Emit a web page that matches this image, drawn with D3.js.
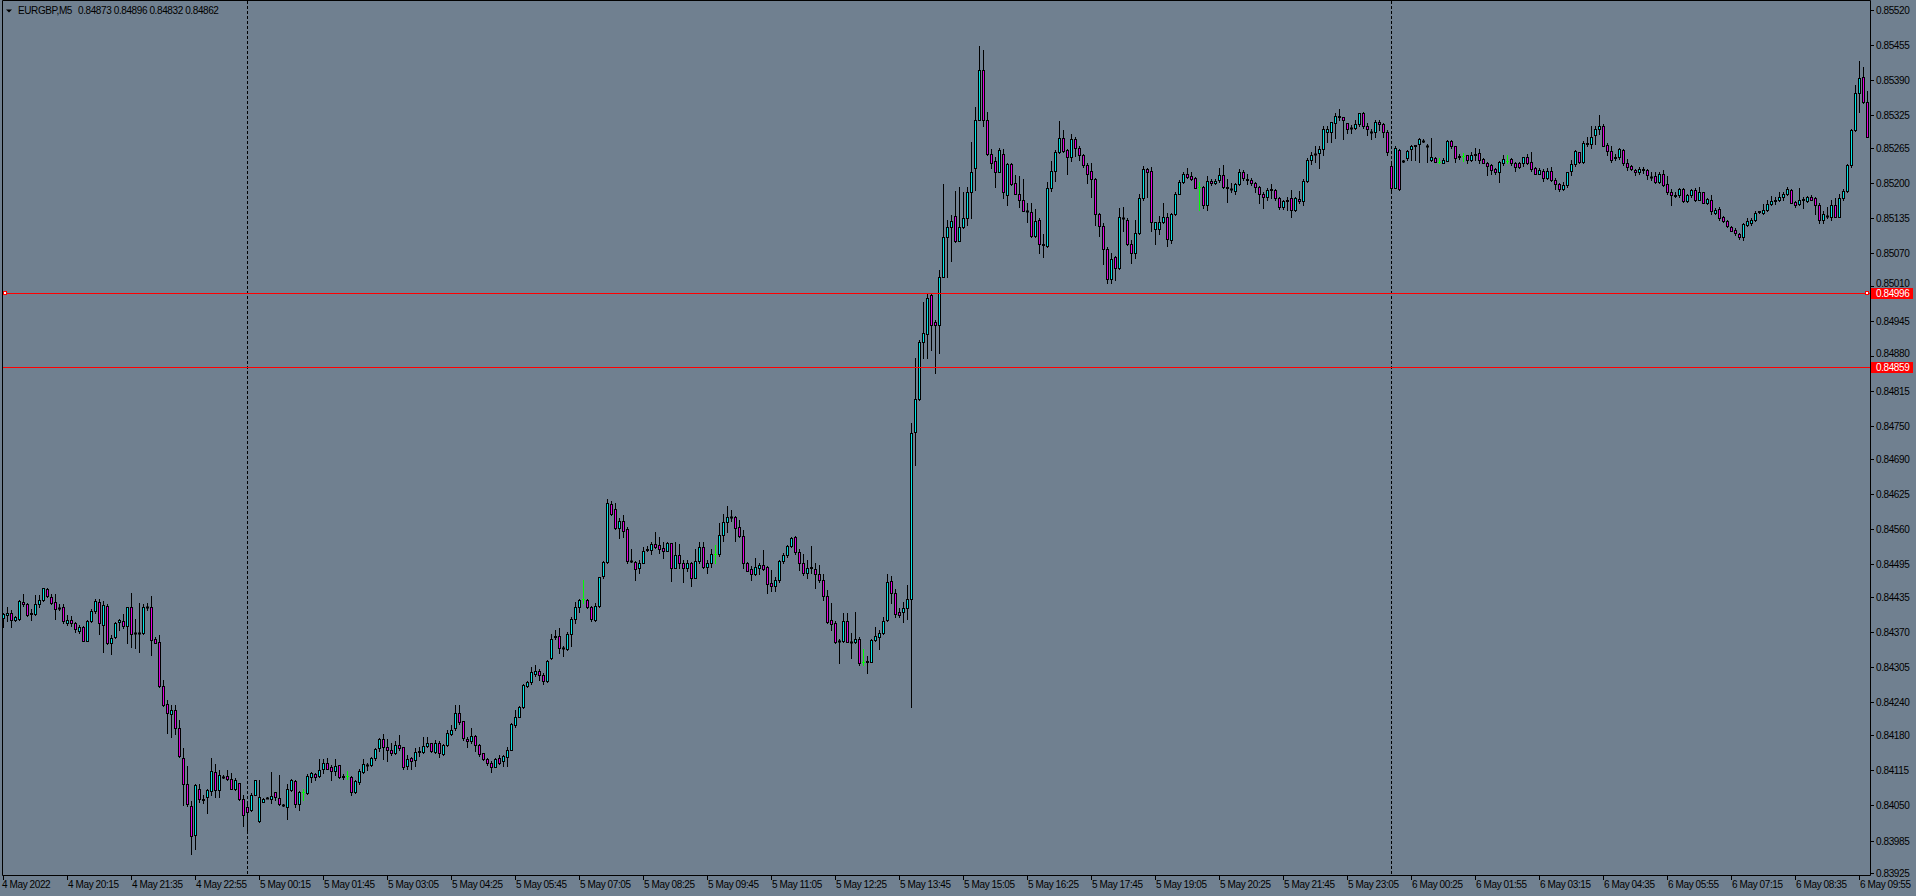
<!DOCTYPE html>
<html><head><meta charset="utf-8">
<script src="https://cdn.jsdelivr.net/npm/d3@7"></script>
<style>
html,body{margin:0;padding:0;background:#708090;overflow:hidden}
svg{display:block}
text{font-family:"Liberation Sans",Arial,sans-serif;font-size:10px;letter-spacing:-0.4px;fill:#000}
</style></head><body>
<svg id="c" width="1916" height="896"></svg>
<script>
// ---- DATA ----
const symbolInfo = "EURGBP,M5";
const headerValues = ["0.84873", "0.84896", "0.84832", "0.84862"];

const opens = [
.84396,.84401,.84406,.84393,.84395,.84426,.84422,.84405,.84404,.84421,
.84430,.84449,.84434,.84426,.84415,.84416,.84387,.84393,.84386,.84372,
.84380,.84354,.84390,.84409,.84425,.84384,.84419,.84349,.84361,.84388,
.84391,.84382,.84416,.84368,.84369,.84369,.84417,.84417,.84358,.84352,
.84271,.84238,.84218,.84227,.84192,.84138,.84089,.84049,.83996,.84081,
.84061,.84065,.84076,.84111,.84079,.84103,.84104,.84099,.84081,.84091,
.84061,.84046,.84041,.84070,.84021,.84057,.84064,.84062,.84074,.84063,
.84051,.84046,.84078,.84095,.84053,.84075,.84072,.84102,.84107,.84104,
.84118,.84128,.84120,.84114,.84124,.84103,.84105,.84102,.84075,.84094,
.84112,.84125,.84124,.84137,.84155,.84172,.84158,.84152,.84146,.84161,
.84157,.84123,.84138,.84134,.84149,.84149,.84159,.84165,.84149,.84166,
.84144,.84161,.84182,.84192,.84220,.84205,.84172,.84168,.84178,.84161,
.84146,.84135,.84129,.84121,.84137,.84131,.84139,.84153,.84198,.84214,
.84232,.84270,.84278,.84292,.84299,.84291,.84279,.84322,.84362,.84363,
.84341,.84338,.84367,.84395,.84416,.84431,.84429,.84416,.84392,.84418,
.84474,.84499,.84607,.84597,.84563,.84575,.84560,.84502,.84500,.84488,
.84498,.84522,.84522,.84532,.84530,.84525,.84520,.84534,.84489,.84512,
.84498,.84488,.84497,.84470,.84501,.84528,.84490,.84497,.84514,.84514,
.84550,.84573,.84583,.84582,.84565,.84548,.84498,.84486,.84478,.84488,
.84493,.84490,.84460,.84455,.84467,.84502,.84512,.84529,.84545,.84518,
.84497,.84479,.84490,.84487,.84478,.84466,.84437,.84392,.84386,.84354,
.84354,.84390,.84352,.84351,.84358,.84315,.84315,.84315,.84355,.84361,
.84368,.84392,.84464,.84442,.84408,.84408,.84414,.84432,.84740,.84800,
.84906,.84921,.84993,.84942,.84937,.85025,.85099,.85119,.85138,.85093,
.85119,.85134,.85182,.85228,.85316,.85408,.85316,.85254,.85241,.85220,
.85254,.85177,.85234,.85199,.85180,.85169,.85148,.85146,.85102,.85132,
.85086,.85084,.85191,.85222,.85257,.85282,.85260,.85248,.85280,.85265,
.85252,.85233,.85222,.85206,.85142,.85121,.85077,.85023,.85062,.85042,
.85135,.85132,.85087,.85071,.85108,.85171,.85225,.85222,.85114,.85114,
.85127,.85136,.85095,.85142,.85180,.85202,.85217,.85212,.85208,.85193,
.85192,.85158,.85204,.85199,.85205,.85215,.85192,.85189,.85185,.85197,
.85219,.85206,.85205,.85200,.85192,.85180,.85174,.85188,.85187,.85171,
.85155,.85168,.85171,.85150,.85170,.85166,.85204,.85242,.85254,.85255,
.85262,.85294,.85294,.85310,.85323,.85321,.85310,.85302,.85302,.85309,
.85328,.85305,.85294,.85293,.85313,.85308,.85294,.85231,.85191,.85260,
.85241,.85245,.85262,.85269,.85272,.85278,.85268,.85242,.85245,.85239,
.85237,.85241,.85277,.85267,.85249,.85250,.85251,.85242,.85252,.85255,
.85243,.85237,.85232,.85225,.85219,.85236,.85241,.85243,.85237,.85237,
.85236,.85247,.85238,.85227,.85217,.85222,.85208,.85222,.85205,.85197,
.85188,.85196,.85222,.85235,.85256,.85239,.85272,.85272,.85288,.85300,
.85305,.85270,.85259,.85246,.85247,.85260,.85236,.85231,.85223,.85220,
.85225,.85223,.85211,.85212,.85202,.85217,.85198,.85182,.85177,.85177,
.85188,.85167,.85177,.85187,.85169,.85182,.85163,.85168,.85145,.85151,
.85137,.85129,.85119,.85113,.85105,.85099,.85122,.85126,.85131,.85146,
.85145,.85150,.85160,.85168,.85168,.85173,.85179,.85186,.85164,.85161,
.85169,.85167,.85173,.85171,.85159,.85132,.85138,.85137,.85159,.85137,
.85171,.85184,.85233,.85297,.85365,.85395,.85350
];
const highs = [
.84406,.84416,.84411,.84400,.84429,.84440,.84424,.84412,.84438,.84438,
.84452,.84451,.84441,.84441,.84421,.84422,.84401,.84400,.84389,.84384,
.84381,.84392,.84412,.84432,.84432,.84428,.84422,.84364,.84389,.84395,
.84404,.84417,.84443,.84395,.84423,.84422,.84424,.84437,.84361,.84364,
.84281,.84244,.84235,.84236,.84207,.84155,.84122,.84058,.84089,.84089,
.84069,.84080,.84137,.84126,.84115,.84106,.84116,.84109,.84100,.84092,
.84069,.84054,.84072,.84097,.84097,.84063,.84065,.84111,.84075,.84106,
.84052,.84089,.84098,.84097,.84076,.84081,.84107,.84111,.84110,.84135,
.84135,.84137,.84125,.84135,.84125,.84107,.84113,.84104,.84097,.84117,
.84135,.84128,.84140,.84156,.84174,.84181,.84172,.84165,.84169,.84179,
.84158,.84143,.84140,.84155,.84157,.84177,.84176,.84166,.84171,.84168,
.84163,.84189,.84198,.84235,.84235,.84206,.84177,.84192,.84180,.84163,
.84147,.84137,.84132,.84137,.84143,.84143,.84158,.84202,.84226,.84234,
.84275,.84280,.84305,.84309,.84301,.84294,.84318,.84367,.84374,.84377,
.84344,.84371,.84397,.84426,.84431,.84466,.84432,.84418,.84423,.84472,
.84501,.84615,.84613,.84609,.84580,.84586,.84565,.84523,.84501,.84503,
.84528,.84529,.84537,.84555,.84545,.84536,.84537,.84535,.84537,.84532,
.84504,.84503,.84500,.84523,.84537,.84537,.84503,.84523,.84531,.84572,
.84588,.84603,.84595,.84584,.84577,.84559,.84500,.84492,.84506,.84497,
.84522,.84492,.84485,.84472,.84504,.84517,.84531,.84546,.84547,.84523,
.84514,.84503,.84529,.84497,.84494,.84478,.84448,.84424,.84390,.84358,
.84405,.84405,.84368,.84408,.84361,.84338,.84325,.84357,.84380,.84374,
.84398,.84477,.84473,.84449,.84414,.84426,.84457,.84756,.84877,.84909,
.84980,.84996,.84996,.84946,.85039,.85198,.85131,.85140,.85185,.85193,
.85183,.85193,.85276,.85340,.85453,.85445,.85331,.85263,.85248,.85265,
.85263,.85237,.85236,.85214,.85212,.85206,.85162,.85162,.85151,.85134,
.85106,.85202,.85241,.85260,.85314,.85297,.85263,.85290,.85284,.85268,
.85254,.85236,.85237,.85208,.85145,.85126,.85081,.85070,.85065,.85153,
.85156,.85134,.85095,.85131,.85180,.85231,.85227,.85230,.85128,.85139,
.85162,.85145,.85145,.85182,.85205,.85220,.85228,.85220,.85210,.85202,
.85194,.85212,.85206,.85206,.85228,.85233,.85206,.85199,.85199,.85225,
.85223,.85217,.85208,.85202,.85194,.85182,.85190,.85198,.85188,.85173,
.85169,.85173,.85187,.85174,.85184,.85206,.85245,.85257,.85268,.85267,
.85304,.85305,.85313,.85328,.85336,.85322,.85311,.85307,.85316,.85329,
.85331,.85310,.85299,.85315,.85315,.85310,.85297,.85239,.85267,.85262,
.85242,.85260,.85270,.85270,.85282,.85280,.85272,.85282,.85248,.85245,
.85245,.85279,.85279,.85268,.85254,.85255,.85252,.85257,.85264,.85263,
.85245,.85239,.85234,.85228,.85240,.85251,.85251,.85245,.85239,.85239,
.85248,.85254,.85257,.85230,.85227,.85225,.85228,.85230,.85208,.85200,
.85202,.85220,.85242,.85260,.85257,.85278,.85285,.85304,.85305,.85325,
.85308,.85273,.85267,.85254,.85265,.85263,.85243,.85233,.85226,.85229,
.85230,.85225,.85220,.85219,.85220,.85223,.85212,.85188,.85182,.85190,
.85190,.85180,.85188,.85190,.85193,.85183,.85172,.85177,.85153,.85155,
.85139,.85131,.85121,.85116,.85108,.85125,.85134,.85135,.85147,.85148,
.85161,.85168,.85175,.85173,.85183,.85183,.85193,.85188,.85167,.85190,
.85174,.85175,.85177,.85174,.85162,.85147,.85156,.85169,.85171,.85179,
.85188,.85235,.85300,.85380,.85425,.85413,.85370
];
const lows = [
.84380,.84391,.84380,.84391,.84392,.84418,.84400,.84393,.84402,.84417,
.84428,.84434,.84422,.84395,.84411,.84386,.84383,.84382,.84371,.84369,
.84353,.84353,.84388,.84406,.84367,.84334,.84348,.84329,.84360,.84374,
.84377,.84349,.84343,.84340,.84334,.84367,.84411,.84327,.84349,.84269,
.84233,.84184,.84177,.84182,.84140,.84050,.84049,.83961,.83970,.84057,
.84055,.84035,.84069,.84065,.84066,.84100,.84097,.84080,.84079,.84060,
.84012,.83998,.84040,.84069,.84020,.84057,.84063,.84055,.84060,.84050,
.84049,.84024,.84077,.84046,.84041,.84060,.84071,.84093,.84097,.84103,
.84109,.84117,.84096,.84106,.84100,.84099,.84098,.84070,.84072,.84089,
.84110,.84115,.84122,.84134,.84151,.84135,.84131,.84143,.84145,.84153,
.84117,.84117,.84118,.84122,.84141,.84146,.84157,.84149,.84147,.84139,
.84143,.84160,.84180,.84190,.84200,.84171,.84158,.84165,.84151,.84142,
.84134,.84125,.84112,.84120,.84126,.84123,.84123,.84152,.84195,.84213,
.84229,.84268,.84275,.84288,.84282,.84274,.84278,.84320,.84358,.84331,
.84325,.84337,.84345,.84387,.84407,.84423,.84415,.84391,.84391,.84417,
.84469,.84498,.84586,.84560,.84543,.84546,.84498,.84500,.84467,.84480,
.84497,.84520,.84514,.84525,.84517,.84506,.84519,.84465,.84488,.84488,
.84463,.84482,.84456,.84469,.84497,.84488,.84480,.84491,.84497,.84511,
.84538,.84554,.84576,.84539,.84546,.84488,.84482,.84466,.84475,.84478,
.84485,.84442,.84445,.84445,.84463,.84498,.84509,.84528,.84515,.84485,
.84475,.84469,.84479,.84451,.84463,.84430,.84386,.84374,.84349,.84313,
.84352,.84351,.84322,.84349,.84309,.84309,.84294,.84314,.84354,.84338,
.84366,.84391,.84423,.84397,.84398,.84389,.84395,.84231,.84679,.84799,
.84876,.84876,.84891,.84849,.84886,.85025,.85026,.85056,.85091,.85093,
.85116,.85122,.85134,.85187,.85315,.85304,.85251,.85228,.85193,.85219,
.85171,.85159,.85196,.85179,.85156,.85147,.85128,.85099,.85100,.85070,
.85062,.85082,.85185,.85203,.85255,.85257,.85217,.85241,.85249,.85242,
.85230,.85200,.85174,.85122,.85102,.85050,.85014,.85014,.85020,.85041,
.85111,.85085,.85052,.85061,.85106,.85169,.85174,.85111,.85086,.85106,
.85125,.85084,.85088,.85140,.85179,.85200,.85209,.85205,.85190,.85150,
.85153,.85150,.85196,.85197,.85202,.85191,.85164,.85183,.85180,.85195,
.85205,.85197,.85196,.85182,.85163,.85153,.85169,.85171,.85168,.85151,
.85151,.85150,.85136,.85148,.85162,.85159,.85202,.85235,.85239,.85228,
.85251,.85276,.85276,.85282,.85316,.85280,.85291,.85291,.85299,.85304,
.85302,.85288,.85280,.85285,.85297,.85284,.85251,.85185,.85190,.85187,
.85239,.85242,.85242,.85242,.85239,.85276,.85239,.85241,.85238,.85237,
.85236,.85240,.85265,.85239,.85243,.85241,.85237,.85241,.85242,.85236,
.85236,.85214,.85217,.85216,.85202,.85233,.85236,.85233,.85222,.85227,
.85231,.85235,.85222,.85216,.85216,.85204,.85206,.85204,.85188,.85185,
.85187,.85193,.85214,.85231,.85237,.85237,.85267,.85264,.85272,.85290,
.85267,.85251,.85239,.85242,.85243,.85233,.85223,.85223,.85215,.85217,
.85218,.85206,.85205,.85200,.85200,.85194,.85180,.85159,.85174,.85174,
.85165,.85165,.85174,.85167,.85168,.85162,.85161,.85143,.85142,.85132,
.85127,.85119,.85110,.85103,.85097,.85095,.85121,.85122,.85130,.85144,
.85143,.85148,.85158,.85160,.85167,.85169,.85177,.85162,.85156,.85159,
.85154,.85164,.85168,.85143,.85125,.85126,.85134,.85132,.85136,.85136,
.85169,.85182,.85230,.85296,.85331,.85347,.85284
];
const closes = [
.84404,.84406,.84392,.84397,.84427,.84421,.84401,.84404,.84421,.84430,
.84451,.84436,.84424,.84412,.84414,.84391,.84393,.84387,.84375,.84380,
.84354,.84390,.84409,.84427,.84386,.84420,.84349,.84360,.84386,.84393,
.84382,.84416,.84367,.84369,.84368,.84417,.84416,.84356,.84350,.84270,
.84236,.84221,.84227,.84193,.84142,.84089,.84053,.83994,.84087,.84061,
.84060,.84078,.84113,.84078,.84106,.84102,.84099,.84081,.84097,.84062,
.84033,.84038,.84070,.84096,.84065,.84061,.84063,.84067,.84065,.84052,
.84050,.84080,.84097,.84053,.84074,.84075,.84105,.84109,.84103,.84116,
.84128,.84118,.84113,.84123,.84102,.84104,.84105,.84075,.84095,.84113,
.84126,.84124,.84137,.84154,.84172,.84157,.84152,.84147,.84161,.84155,
.84120,.84135,.84131,.84149,.84150,.84160,.84166,.84150,.84165,.84146,
.84161,.84183,.84189,.84220,.84203,.84174,.84168,.84178,.84161,.84144,
.84135,.84128,.84120,.84135,.84128,.84141,.84152,.84200,.84214,.84232,
.84272,.84278,.84297,.84299,.84291,.84279,.84317,.84358,.84361,.84340,
.84340,.84367,.84395,.84416,.84429,.84431,.84417,.84395,.84418,.84471,
.84499,.84608,.84589,.84563,.84576,.84556,.84502,.84501,.84486,.84498,
.84520,.84523,.84532,.84528,.84524,.84520,.84534,.84489,.84512,.84498,
.84488,.84498,.84469,.84501,.84528,.84491,.84497,.84514,.84514,.84550,
.84573,.84582,.84582,.84563,.84548,.84497,.84483,.84478,.84491,.84493,
.84487,.84458,.84456,.84467,.84502,.84512,.84529,.84544,.84518,.84497,
.84479,.84488,.84489,.84477,.84466,.84437,.84388,.84385,.84351,.84353,
.84390,.84352,.84351,.84358,.84313,.84315,.84316,.84355,.84363,.84369,
.84390,.84462,.84442,.84403,.84402,.84414,.84432,.84737,.84800,.84906,
.84922,.84988,.84937,.84937,.85025,.85099,.85119,.85130,.85093,.85119,
.85134,.85183,.85220,.85316,.85408,.85316,.85254,.85236,.85220,.85260,
.85182,.85235,.85198,.85180,.85169,.85148,.85147,.85102,.85130,.85086,
.85085,.85191,.85222,.85257,.85282,.85259,.85248,.85280,.85265,.85251,
.85233,.85217,.85206,.85143,.85121,.85077,.85023,.85060,.85042,.85136,
.85134,.85087,.85071,.85108,.85171,.85225,.85220,.85127,.85127,.85127,
.85136,.85097,.85142,.85180,.85202,.85217,.85211,.85207,.85191,.85193,
.85158,.85204,.85199,.85204,.85215,.85193,.85191,.85188,.85197,.85220,
.85208,.85205,.85200,.85192,.85180,.85174,.85187,.85187,.85171,.85155,
.85166,.85167,.85150,.85171,.85166,.85204,.85242,.85251,.85253,.85262,
.85300,.85300,.85312,.85323,.85322,.85315,.85299,.85301,.85309,.85328,
.85305,.85300,.85293,.85313,.85308,.85294,.85257,.85191,.85265,.85188,
.85240,.85259,.85267,.85268,.85280,.85277,.85267,.85247,.85239,.85239,
.85242,.85277,.85267,.85246,.85248,.85250,.85242,.85251,.85253,.85242,
.85237,.85231,.85224,.85219,.85239,.85243,.85241,.85236,.85230,.85230,
.85247,.85237,.85225,.85217,.85224,.85208,.85222,.85205,.85197,.85188,
.85196,.85219,.85235,.85259,.85239,.85273,.85273,.85285,.85300,.85305,
.85268,.85259,.85242,.85247,.85262,.85236,.85230,.85226,.85219,.85225,
.85224,.85215,.85210,.85202,.85217,.85196,.85182,.85177,.85176,.85188,
.85167,.85177,.85187,.85169,.85182,.85163,.85170,.85147,.85150,.85134,
.85130,.85121,.85111,.85107,.85100,.85123,.85129,.85131,.85145,.85147,
.85150,.85161,.85166,.85167,.85173,.85180,.85188,.85163,.85159,.85169,
.85170,.85173,.85169,.85159,.85132,.85142,.85139,.85159,.85137,.85171,
.85185,.85233,.85297,.85365,.85393,.85350,.85285
];

const timeLabels = ["4 May 2022","4 May 20:15","4 May 21:35","4 May 22:55","5 May 00:15","5 May 01:45",
  "5 May 03:05","5 May 04:25","5 May 05:45","5 May 07:05","5 May 08:25","5 May 09:45","5 May 11:05",
  "5 May 12:25","5 May 13:45","5 May 15:05","5 May 16:25","5 May 17:45","5 May 19:05","5 May 20:25",
  "5 May 21:45","5 May 23:05","6 May 00:25","6 May 01:55","6 May 03:15","6 May 04:35","6 May 05:55",
  "6 May 07:15","6 May 08:35","6 May 09:55"];
const barsPerLabel = 16;
const priceTicks = [0.85520,0.85455,0.85390,0.85325,0.85265,0.85200,0.85135,0.85070,0.85010,0.84945,
  0.84880,0.84815,0.84750,0.84690,0.84625,0.84560,0.84495,0.84435,0.84370,0.84305,0.84240,0.84180,
  0.84115,0.84050,0.83985,0.83925];
const priceDomain = [0.83925, 0.85520];
const hLevels = [0.84996, 0.84859];
const separatorBars = [61, 347]; // day separators (5 May 00:00, 6 May 00:00)

// ---- STYLE / LAYOUT ----
const W = 1916, H = 896;
const L = 2, T = 0, R = 1870, B = 875;
const BG = "#708090", BULL = "#00E5E5", BEAR = "#E000E0", DOJI = "#00FF00", RED = "#FF0000";

const svg = d3.select("#c");
svg.append("rect").attr("width", W).attr("height", H).attr("fill", BG);

const n = closes.length;
const x = d3.scaleLinear().domain([0, n - 1]).range([3.3, 1867.3]);
const y = d3.scaleLinear().domain(priceDomain).range([873, 9.5]);
const px = i => Math.round(x(i));
const py = v => Math.round(y(v));

const bars = d3.range(n).map(i => ({i, o: opens[i], h: highs[i], l: lows[i], c: closes[i]}));

// plot frame
svg.append("path").attr("d", `M${L+0.5},${B+0.5}V${T+0.5}H${R+0.5}V${B+0.5}H${L+0.5}`)
  .attr("fill", "none").attr("stroke", "#000").attr("stroke-width", 1);

// day separators
svg.append("g").selectAll("line").data(separatorBars).join("line")
  .attr("x1", d => px(d) + 0.5).attr("x2", d => px(d) + 0.5)
  .attr("y1", T + 1).attr("y2", B)
  .attr("stroke", "#000").attr("stroke-width", 1).attr("stroke-dasharray", "3,2");

// wicks
svg.append("g").selectAll("line").data(bars).join("line")
  .attr("x1", d => px(d.i) + 0.5).attr("x2", d => px(d.i) + 0.5)
  .attr("y1", d => py(d.h)).attr("y2", d => py(d.l) + 1)
  .attr("stroke", d => d.o === d.c ? DOJI : "#000").attr("stroke-width", 1);

// bodies
const bodyG = svg.append("g");
bars.forEach(d => {
  const top = py(Math.max(d.o, d.c)), bot = py(Math.min(d.o, d.c));
  const cx = px(d.i);
  if (d.o === d.c) {
    bodyG.append("line").attr("x1", cx - 1).attr("x2", cx + 2)
      .attr("y1", top + 0.5).attr("y2", top + 0.5).attr("stroke", DOJI);
  } else if (bot - top < 1) {
    bodyG.append("line").attr("x1", cx - 1).attr("x2", cx + 2)
      .attr("y1", top + 0.5).attr("y2", top + 0.5).attr("stroke", "#000").attr("stroke-width", 2);
  } else {
    bodyG.append("rect").attr("x", cx - 0.5).attr("y", top + 0.5)
      .attr("width", 2).attr("height", bot - top)
      .attr("fill", d.c > d.o ? BULL : BEAR).attr("stroke", "#000").attr("stroke-width", 1);
  }
});

// price axis ticks + labels (a label that would run under a level box is nudged up)
const pAx = svg.append("g");
priceTicks.forEach(v => {
  const yy = py(v);
  pAx.append("line").attr("x1", R + 1).attr("x2", R + 4).attr("y1", yy + 0.5).attr("y2", yy + 0.5).attr("stroke", "#000");
  const clash = hLevels.some(h => py(h) > yy && py(h) - yy < 12);
  pAx.append("text").attr("x", 1876).attr("y", clash ? yy + 1 : yy + 4).text(v.toFixed(5));
});

// time axis ticks + labels
const tAx = svg.append("g");
timeLabels.forEach((s, k) => {
  const xx = px(k * barsPerLabel);
  tAx.append("line").attr("x1", xx + 0.5).attr("x2", xx + 0.5).attr("y1", B + 1).attr("y2", B + 5).attr("stroke", "#000");
  tAx.append("text").attr("x", k === 0 ? xx - 1 : xx + 1).attr("y", 888).text(s);
});

// horizontal levels
hLevels.forEach((v, k) => {
  const yy = py(v);
  svg.append("line").attr("x1", L + 1).attr("x2", R).attr("y1", yy + 0.5).attr("y2", yy + 0.5)
    .attr("stroke", RED).attr("stroke-width", 1);
  svg.append("rect").attr("x", 1871).attr("y", yy - 5).attr("width", 42).attr("height", 11).attr("fill", RED);
  svg.append("text").attr("x", 1876).attr("y", yy + 4).style("fill", "#fff").text(v.toFixed(5));
  if (k === 0) {
    [4, 1866].forEach(sx => {
      svg.append("rect").attr("x", sx - 0.5).attr("y", yy - 1.5).attr("width", 3).attr("height", 3)
        .attr("fill", "#fff").attr("stroke", RED).attr("stroke-width", 1);
    });
  }
});

// header
svg.append("path").attr("d", "M6,9.5L12,9.5L9,12.5Z").attr("fill", "#000");
svg.append("text").attr("x", 18).attr("y", 14).text(symbolInfo);
svg.append("text").attr("x", 78).attr("y", 14).text(headerValues.join(" "));
</script>
</body></html>
